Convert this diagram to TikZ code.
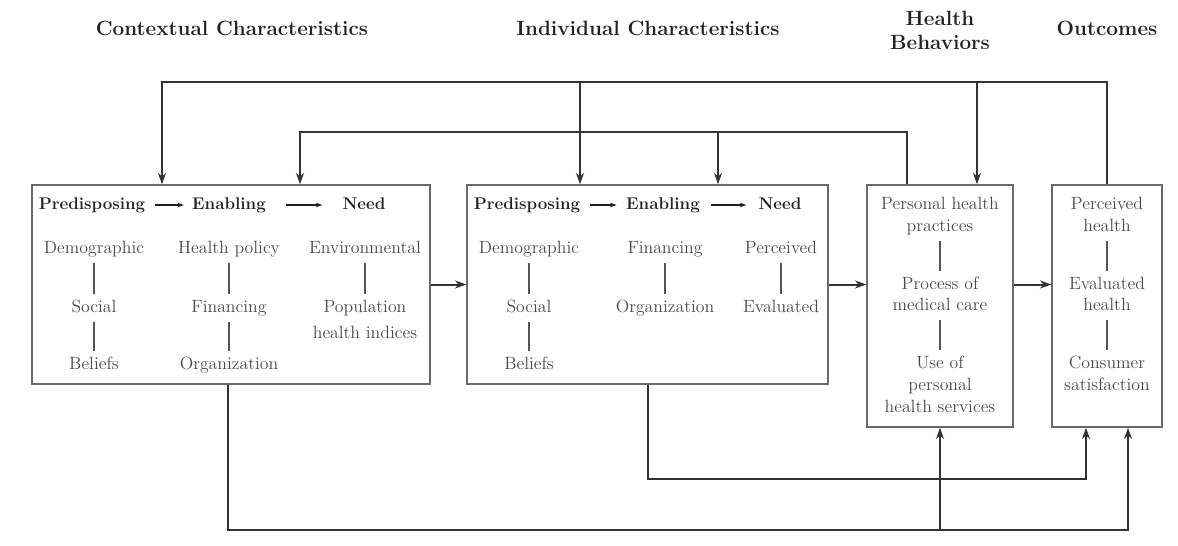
\documentclass[tikz,border=0pt]{standalone}
\usetikzlibrary{arrows.meta,fit,calc}
\definecolor{lineC}{HTML}{333333}
\definecolor{boxC}{HTML}{6A6A6A}
\definecolor{itemC}{HTML}{4A4A4A}
\definecolor{barC}{HTML}{555555}
\definecolor{headC}{HTML}{222222}
\begin{document}
\begin{tikzpicture}[x=0.75pt,y=-0.75pt,
 title/.style={font=\fontsize{15.5}{18}\selectfont\bfseries, text=headC, align=center, inner sep=0},
 head/.style={font=\fontsize{12.7}{15}\selectfont\bfseries, text=headC, inner sep=0, text height=9pt, text depth=3pt},
 item/.style={font=\fontsize{13.3}{15}\selectfont, text=itemC, inner sep=0, text height=9.5pt, text depth=3pt},
 box/.style={draw=boxC, line width=1.1pt, inner sep=0},
 bar/.style={draw=barC, line width=1.4pt, shorten <=4pt, shorten >=4pt},
 conn/.style={draw=lineC, line width=1.5pt},
 arr/.style={conn, -{Stealth[length=8.5pt,width=6pt]}},
 harr/.style={draw=headC, line width=0.8pt, -{Stealth[length=5pt,width=3.5pt]}},
]
\useasboundingbox (0,0) rectangle (1178,546);

% titles
\node[title] (tctx) at (232,28) {Contextual Characteristics};
\node[title] (tind) at (648,28) {Individual Characteristics};
\node[title] (thb) at (940,30) {Health\\Behaviors};
\node[title] (tout) at (1107,28) {Outcomes};

% boxes
\node[box, fit={(32,185) (430,384)}] (b1) {};
\node[box, fit={(467,185) (828,384)}] (b2) {};
\node[box, fit={(867,185) (1013,427)}] (b3) {};
\node[box, fit={(1052,185) (1162,427)}] (b4) {};

% box 1 contents
\node[head] (p1) at (92,205) {Predisposing};
\node[head] (e1) at (229,205) {Enabling};
\node[head] (n1) at (364,205) {Need};
\draw[harr, shorten <=7pt, shorten >=6pt] (p1) -- (e1);
\draw[harr, shorten <=15pt, shorten >=15pt] (e1) -- (n1);
\node[item] (dem1) at (94,249) {Demographic};
\node[item] (soc1) at (94,308) {Social};
\node[item] (bel1) at (94,365) {Beliefs};
\node[item] (hp1) at (229,249) {Health policy};
\node[item] (fin1) at (229,308) {Financing};
\node[item] (org1) at (229,365) {Organization};
\node[item] (env1) at (365,249) {Environmental};
\node[item] (pop1) at (365,308) {Population};
\node[item] (hin1) at (365,334) {health indices};
\draw[bar] (dem1) -- (soc1);
\draw[bar] (soc1) -- (bel1);
\draw[bar] (hp1) -- (fin1);
\draw[bar] (fin1) -- (org1);
\draw[bar] (env1) -- (pop1);

% box 2 contents
\node[head] (p2) at (527,205) {Predisposing};
\node[head] (e2) at (663,205) {Enabling};
\node[head] (n2) at (780,205) {Need};
\draw[harr, shorten <=7pt, shorten >=7pt] (p2) -- (e2);
\draw[harr, shorten <=8pt, shorten >=9pt] (e2) -- (n2);
\node[item] (dem2) at (529,249) {Demographic};
\node[item] (soc2) at (529,308) {Social};
\node[item] (bel2) at (529,365) {Beliefs};
\node[item] (fin2) at (665,249) {Financing};
\node[item] (org2) at (665,308) {Organization};
\node[item] (per2) at (781,249) {Perceived};
\node[item] (eva2) at (781,308) {Evaluated};
\draw[bar] (dem2) -- (soc2);
\draw[bar] (soc2) -- (bel2);
\draw[bar] (fin2) -- (org2);
\draw[bar] (per2) -- (eva2);

% box 3 contents
\node[item] (ph1) at (940,205) {Personal health};
\node[item] (ph2) at (940,227) {practices};
\node[item] (pm1) at (940,285) {Process of};
\node[item] (pm2) at (940,306) {medical care};
\node[item] (us1) at (940,364) {Use of};
\node[item] (us2) at (940,386) {personal};
\node[item] (us3) at (940,408) {health services};
\draw[bar] (ph2) -- (pm1);
\draw[bar] (pm2) -- (us1);

% box 4 contents
\node[item] (ph4) at (1107,205) {Perceived};
\node[item] (ph4b) at (1107,227) {health};
\node[item] (ev4) at (1107,285) {Evaluated};
\node[item] (ev4b) at (1107,306) {health};
\node[item] (cs4) at (1107,364) {Consumer};
\node[item] (cs4b) at (1107,386) {satisfaction};
\draw[bar] (ph4b) -- (ev4);
\draw[bar] (ev4b) -- (cs4);

% horizontal flow
\draw[arr] (b1.east) -- (b2.west);
\draw[arr] (b2.east) -- (b2.east -| b3.west);
\draw[arr] (b3.east |- b2.east) -- (b4.west |- b2.east);

% top feedback loop 1
\coordinate (tl) at (162,82);
\coordinate (t2) at (580,82);
\coordinate (t3) at (977,82);
\draw[arr] (b4.north) |- (tl) -- (b1.north -| tl);
\draw[arr] (t2) -- (b2.north -| t2);
\draw[arr] (t3) -- (b3.north -| t3);

% top feedback loop 2
\coordinate (ml) at (300,132);
\coordinate (m2) at (718,132);
\coordinate (m3) at (907,132);
\draw[arr] (b3.north -| m3) -- (m3) -- (ml) -- (b1.north -| ml);
\draw[arr] (m2) -- (b2.north -| m2);

% bottom loops
\coordinate (bl) at (228,530);
\coordinate (br) at (1128,530);
\draw[arr] (b1.south -| bl) -- (bl) -- (br) -- (b4.south -| br);
\draw[arr] (b3.south |- bl) -- (b3.south);
\coordinate (cl) at (648,479);
\coordinate (cr) at (1086,479);
\draw[arr] (b2.south -| cl) -- (cl) -- (cr) -- (b4.south -| cr);
\end{tikzpicture}
\end{document}
